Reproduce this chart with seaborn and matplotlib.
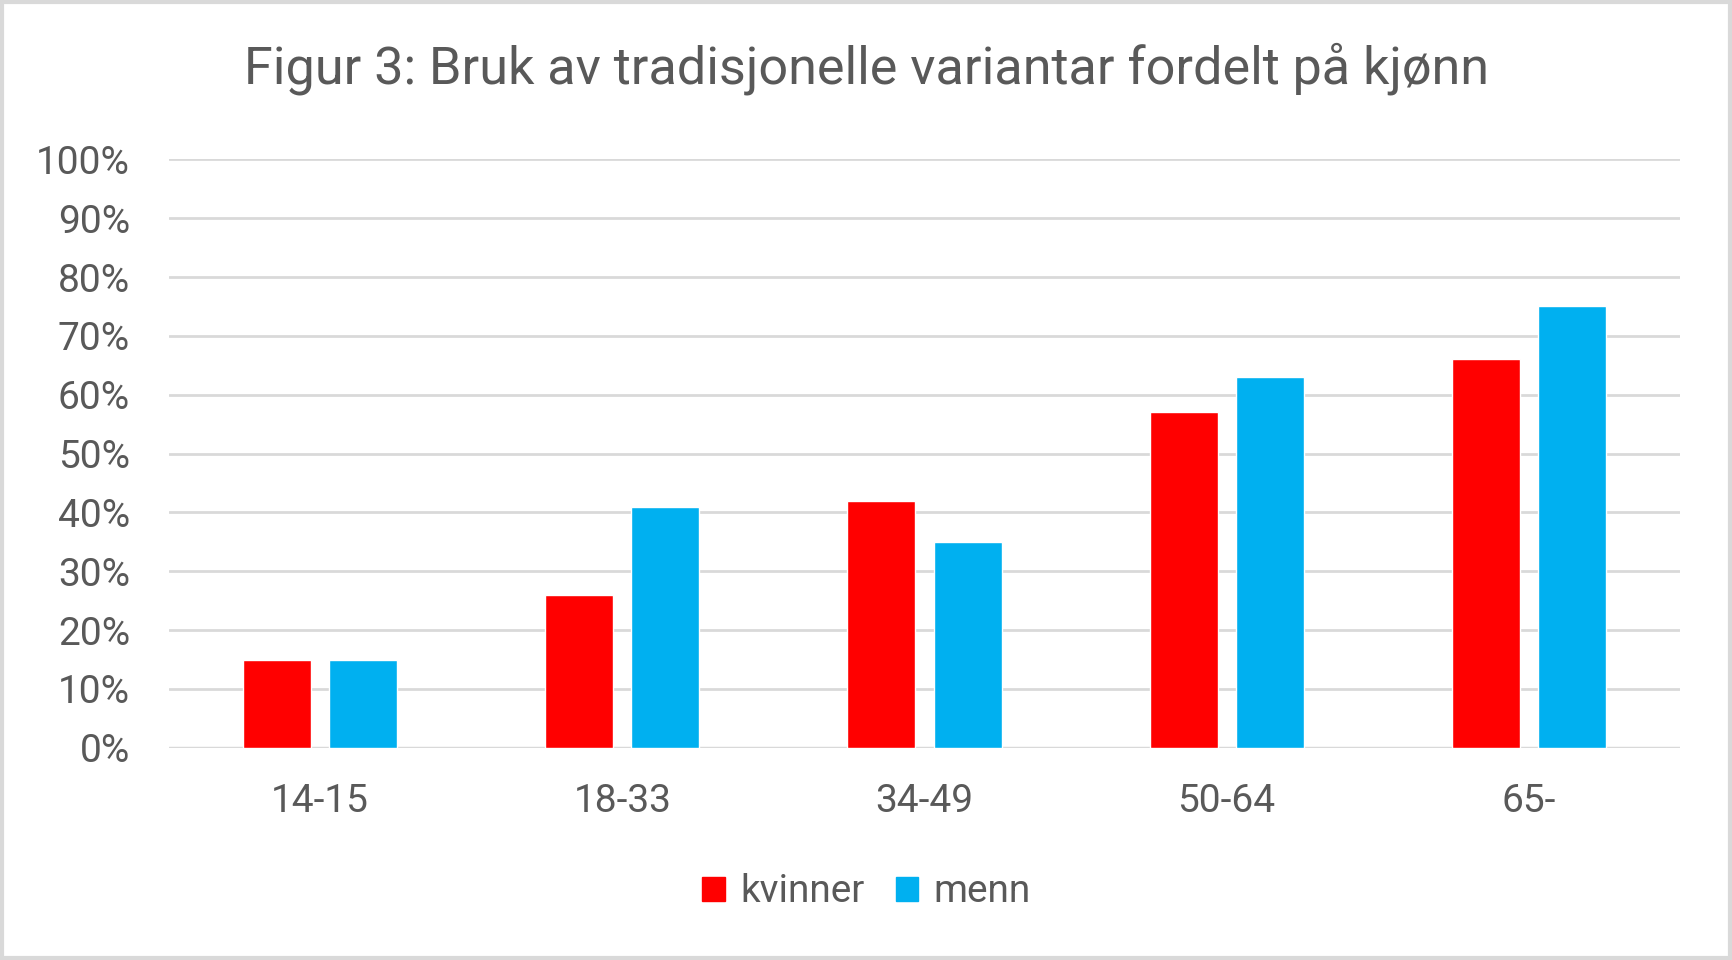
import matplotlib
matplotlib.use("Agg")
import matplotlib.pyplot as plt
import matplotlib.patches as mpatches
import pandas as pd
import seaborn as sns

# data
groups = ["14-15", "18-33", "34-49", "50-64", "65-"]
kvinner = [15, 26, 42, 57, 66]
menn = [15, 41, 35, 63, 75]
series = ["kvinner", "menn"]
colors = {"kvinner": "#FF0000", "menn": "#00B0F0"}

df = pd.DataFrame({
    "group": groups * 2,
    "value": kvinner + menn,
    "kjonn": ["kvinner"] * len(groups) + ["menn"] * len(groups),
})

sns.set_theme(style="white")
plt.rcParams["font.family"] = ["Roboto", "DejaVu Sans"]
txt = "#595959"
grid = "#D9D9D9"

fig = plt.figure(figsize=(17.33, 9.6), dpi=100)
ax = fig.add_axes([0.0975, 0.221, 0.8719, 0.613])

sns.barplot(data=df, x="group", y="value", hue="kjonn", order=groups,
            hue_order=series, palette=colors, width=0.57, gap=0.21,
            saturation=1, ax=ax, legend=False)

ax.set_ylim(0, 100)
ax.set_xlim(-0.5, len(groups) - 0.5)
ax.set_yticks(range(0, 101, 10))
ax.set_yticklabels([f"{v}%" for v in range(0, 101, 10)])
ax.yaxis.grid(True, color=grid, linewidth=2)
ax.set_axisbelow(True)
for s in ax.spines.values():
    s.set_visible(False)
ax.axhline(0, color=grid, linewidth=2.5, zorder=0)
ax.tick_params(axis="y", length=0, pad=28, labelsize=28, labelcolor=txt)
ax.tick_params(axis="x", length=0, pad=25, labelsize=28, labelcolor=txt)
ax.set_xlabel("")
ax.set_ylabel("")

fig.text(0.5, 0.928, "Figur 3: Bruk av tradisjonelle variantar fordelt på kjønn",
         ha="center", va="center", fontsize=37.5, color=txt)

handles = [mpatches.Patch(color=colors[s], label=s) for s in series]
fig.legend(handles=handles, loc="center", bbox_to_anchor=(0.5, 0.071), ncol=2,
           frameon=False, fontsize=28, labelcolor=txt, handlelength=0.58,
           handleheight=0.58, handletextpad=0.4, columnspacing=0.8)

# outer border of the chart area
fig.patches.append(mpatches.Rectangle((0.001, 0.002), 0.997, 0.996,
                                      transform=fig.transFigure, fill=False,
                                      edgecolor=grid, linewidth=3))

fig.savefig("out.png", dpi=100)
